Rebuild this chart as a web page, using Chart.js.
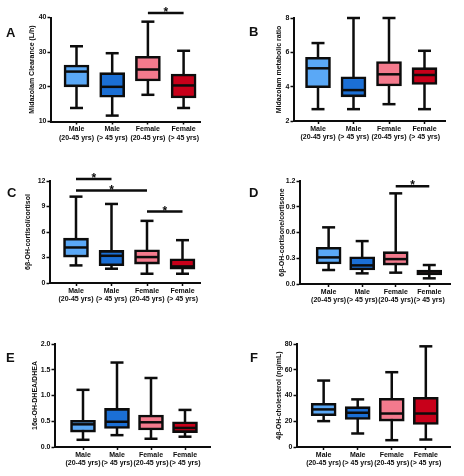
<!DOCTYPE html>
<html><head><meta charset="utf-8">
<script src="https://cdn.jsdelivr.net/npm/chart.js@4.4.1/dist/chart.umd.min.js"></script>
<style>
html,body{margin:0;padding:0;background:#fff;}
#wrap{position:relative;width:464px;height:476px;overflow:hidden;background:#fff;}
#wrap canvas{position:absolute;}
.lbl{position:absolute;font:bold 13px "Liberation Sans",Arial,sans-serif;line-height:13px;color:#111;}
</style></head><body><div id="wrap"></div>
<script>
// ---- data ----
const categories = [["Male","(20-45 yrs)"],["Male","(> 45 yrs)"],["Female","(20-45 yrs)"],["Female","(> 45 yrs)"]];

// A: Midazolam clearance (L/h)
const clearanceMin = [13.9, 11.7, 17.7, 13.9];
const clearanceQ1 = [20.0, 17.0, 21.7, 16.8];
const clearanceMedian = [24.4, 20.0, 25.0, 20.4];
const clearanceQ3 = [26.3, 24.1, 28.8, 23.7];
const clearanceMax = [31.7, 29.7, 38.8, 30.4];
const clearanceTicks = [10, 20, 30, 40];
const clearanceSig = [[2, 3, 41.3]];

// B: Midazolam metabolic ratio
const ratioMin = [2.69, 2.69, 2.98, 2.69];
const ratioQ1 = [3.94, 3.41, 4.04, 4.13];
const ratioMedian = [5.07, 3.80, 4.72, 4.68];
const ratioQ3 = [5.71, 4.58, 5.46, 5.11];
const ratioMax = [6.54, 8.0, 8.0, 6.09];
const ratioTicks = [2, 4, 6, 8];
const ratioSig = [];

// C: 6b-OH-cortisol/cortisol
const cortisolMin = [2.07, 1.68, 1.09, 1.09];
const cortisolQ1 = [3.05, 2.03, 2.23, 1.64];
const cortisolMedian = [4.18, 3.20, 3.05, 1.95];
const cortisolQ3 = [5.28, 3.83, 3.90, 2.85];
const cortisolMax = [10.16, 9.3, 7.31, 5.04];
const cortisolTicks = [0, 3, 6, 9, 12];
const cortisolSig = [[0, 1, 12.23], [0, 2, 10.87], [2, 3, 8.4]];

// D: 6b-OH-cortisone/cortisone
const cortisoneMin = [0.163, 0.124, 0.132, 0.066];
const cortisoneQ1 = [0.233, 0.163, 0.22, 0.105];
const cortisoneMedian = [0.31, 0.217, 0.29, 0.124];
const cortisoneQ3 = [0.427, 0.318, 0.377, 0.163];
const cortisoneMax = [0.66, 0.50, 1.056, 0.221];
const cortisoneTicks = [0, 0.3, 0.6, 0.9, 1.2];
const cortisoneSig = [[2, 3, 1.14]];

// E: 16a-OH-DHEA/DHEA
const dheaMin = [0.14, 0.23, 0.16, 0.20];
const dheaQ1 = [0.29, 0.36, 0.33, 0.28];
const dheaMedian = [0.44, 0.49, 0.48, 0.37];
const dheaQ3 = [0.52, 0.75, 0.62, 0.49];
const dheaMax = [1.11, 1.64, 1.34, 0.72];
const dheaTicks = [0, 0.5, 1.0, 1.5, 2.0];
const dheaSig = [];

// F: 4b-OH-cholesterol (ng/mL)
const cholMin = [20.1, 10.5, 5.3, 5.8];
const cholQ1 = [24.3, 21.4, 20.1, 17.5];
const cholMedian = [29.2, 26.6, 26.0, 26.0];
const cholQ3 = [33.9, 31.3, 37.8, 38.6];
const cholMax = [51.6, 37.0, 58.1, 78.2];
const cholTicks = [0, 20, 40, 60, 80];
const cholSig = [];

// ---- styles / layout ----
const boxColors = ['#5aa8f6', '#1b6fd5', '#f47a8d', '#c8001a'];
const INK = '#0c0c0c';
const FONT = '"Liberation Sans", Arial, sans-serif';
Chart.defaults.font.family = FONT;
Chart.defaults.color = INK;

const panels = [
  {letter:'A', lpos:[6,25.5], box:[0,0,232,155], area:{L:51,R:200,T:17.5,B:121.5}, c0:76.5, step:35.7,
   title:'Midazolam Clearance (L/h)', titleX:32, dec:0,
   min:clearanceMin,q1:clearanceQ1,med:clearanceMedian,q3:clearanceQ3,max:clearanceMax,ticks:clearanceTicks,sig:clearanceSig},
  {letter:'B', lpos:[249,25], box:[232,0,232,155], area:{L:294,R:445,T:18,B:121}, c0:318, step:35.5,
   title:'Midazolam metabolic ratio', titleX:47, dec:0,
   min:ratioMin,q1:ratioQ1,med:ratioMedian,q3:ratioQ3,max:ratioMax,ticks:ratioTicks,sig:ratioSig},
  {letter:'C', lpos:[7,186], box:[0,155,232,155], area:{L:50,R:200,T:181,B:283}, c0:76, step:35.5,
   title:'6β-OH-cortisol/cortisol', titleX:28, dec:0,
   min:cortisolMin,q1:cortisolQ1,med:cortisolMedian,q3:cortisolQ3,max:cortisolMax,ticks:cortisolTicks,sig:cortisolSig},
  {letter:'D', lpos:[249,186], box:[232,155,232,155], area:{L:300,R:452,T:181,B:284}, c0:329, step:34,
   title:'6β-OH-cortisone/cortisone', titleX:50, dec:1,
   min:cortisoneMin,q1:cortisoneQ1,med:cortisoneMedian,q3:cortisoneQ3,max:cortisoneMax,ticks:cortisoneTicks,sig:cortisoneSig},
  {letter:'E', lpos:[6,351], box:[0,310,232,166], area:{L:55,R:210,T:344,B:447}, c0:83, step:34,
   title:'16α-OH-DHEA/DHEA', titleX:35, dec:1,
   min:dheaMin,q1:dheaQ1,med:dheaMedian,q3:dheaQ3,max:dheaMax,ticks:dheaTicks,sig:dheaSig},
  {letter:'F', lpos:[250,350.5], box:[232,310,232,166], area:{L:297,R:452,T:344,B:447}, c0:324, step:34.5,
   title:'4β-OH-cholesterol (ng/mL)', titleX:47, dec:0,
   min:cholMin,q1:cholQ1,med:cholMedian,q3:cholQ3,max:cholMax,ticks:cholTicks,sig:cholSig}
];

const wrap = document.getElementById('wrap');

function starPlugin(sig) {
  return {
    id: 'stars',
    afterDatasetsDraw(chart) {
      const {ctx, scales: {x, y}} = chart;
      ctx.save();
      ctx.font = 'bold 12px ' + FONT;
      ctx.textAlign = 'center';
      ctx.textBaseline = 'alphabetic';
      ctx.fillStyle = INK;
      sig.forEach(s => {
        ctx.fillText('*', x.getPixelForValue((s[0] + s[1]) / 2), y.getPixelForValue(s[2]) + 3);
      });
      ctx.restore();
    }
  };
}

function makeChart(p) {
  const [cx, cy, cw, ch] = p.box;
  const canvas = document.createElement('canvas');
  canvas.width = cw; canvas.height = ch;
  canvas.style.left = cx + 'px'; canvas.style.top = cy + 'px';
  canvas.style.width = cw + 'px'; canvas.style.height = ch + 'px';
  wrap.appendChild(canvas);

  const lab = document.createElement('div');
  lab.className = 'lbl';
  lab.textContent = p.letter;
  lab.style.left = p.lpos[0] + 'px'; lab.style.top = p.lpos[1] + 'px';
  wrap.appendChild(lab);

  const xMin = (p.area.L - p.c0) / p.step;
  const xMax = (p.area.R - p.c0) / p.step;
  const idx = categories.map((_, i) => i);

  const whiskers = [];
  idx.forEach(i => whiskers.push({x: i, y: p.min[i]}, {x: i, y: p.max[i]}, {x: i, y: null}));
  const caps = [];
  idx.forEach(i => caps.push({x: i, y: p.min[i]}, {x: i, y: p.max[i]}));
  const medians = idx.map(i => ({x: i, y: p.med[i]}));
  const boxes = idx.map(i => ({x: i, y: [p.q1[i], p.q3[i]]}));
  const sigLines = [];
  p.sig.forEach(s => sigLines.push({x: s[0], y: s[2]}, {x: s[1], y: s[2]}, {x: s[1], y: null}));

  new Chart(canvas, {
    type: 'bar',
    data: {
      datasets: [
        {type: 'line', data: whiskers, borderColor: INK, borderWidth: 2.5, pointRadius: 0, spanGaps: false, order: 5, clip: false, borderCapStyle: 'butt'},
        {type: 'bar', data: boxes, backgroundColor: boxColors, borderColor: INK, borderWidth: 2.6, borderSkipped: false, barThickness: 25, order: 4, clip: false},
        {type: 'line', data: caps, showLine: false, pointStyle: 'line', pointRadius: 6.5, pointHoverRadius: 6.5, pointBorderWidth: 2.5, pointBorderColor: INK, order: 2, clip: false},
        {type: 'line', data: medians, showLine: false, pointStyle: 'line', pointRadius: 11.5, pointHoverRadius: 11.5, pointBorderWidth: 2.5, pointBorderColor: INK, order: 1, clip: false},
        {type: 'line', data: sigLines, borderColor: INK, borderWidth: 2.5, pointRadius: 0, spanGaps: false, order: 0, clip: false, borderCapStyle: 'butt'}
      ]
    },
    options: {
      responsive: false,
      animation: false,
      devicePixelRatio: 1,
      events: [],
      layout: {padding: {left: 0, top: p.area.T - cy, right: cx + cw - p.area.R, bottom: 0}},
      plugins: {legend: {display: false}, tooltip: {enabled: false}},
      scales: {
        x: {
          type: 'linear', min: xMin, max: xMax, offset: false,
          grid: {offset: false, drawOnChartArea: false, drawTicks: true, tickLength: 3, tickWidth: 1.5, tickColor: INK, color: INK},
          border: {display: true, color: INK, width: 2},
          afterBuildTicks: s => { s.ticks = idx.map(i => ({value: i})); },
          afterFit: s => { s.height = cy + ch - p.area.B; },
          ticks: {autoSkip: false, maxRotation: 0, minRotation: 0, padding: 0.5, color: INK,
            font: {size: 7, weight: 'bold', lineHeight: 1.2},
            callback: v => categories[v]}
        },
        y: {
          type: 'linear', min: p.ticks[0], max: p.ticks[p.ticks.length - 1],
          grid: {drawOnChartArea: false, drawTicks: true, tickLength: 3.5, tickWidth: 1.5, tickColor: INK, color: INK},
          border: {display: true, color: INK, width: 2},
          afterBuildTicks: s => { s.ticks = p.ticks.map(v => ({value: v})); },
          afterFit: s => { s.width = p.area.L - cx; },
          ticks: {padding: 1, color: INK, font: {size: 7, weight: 'bold'},
            callback: v => Number(v).toFixed(p.dec)},
          title: {display: true, text: p.title, color: INK, font: {size: 7, weight: 'bold', lineHeight: 1.2},
            padding: {top: p.titleX - 4.2, bottom: 0}}
        }
      }
    },
    plugins: [starPlugin(p.sig)]
  });
}

panels.forEach(makeChart);
</script>
</body></html>
